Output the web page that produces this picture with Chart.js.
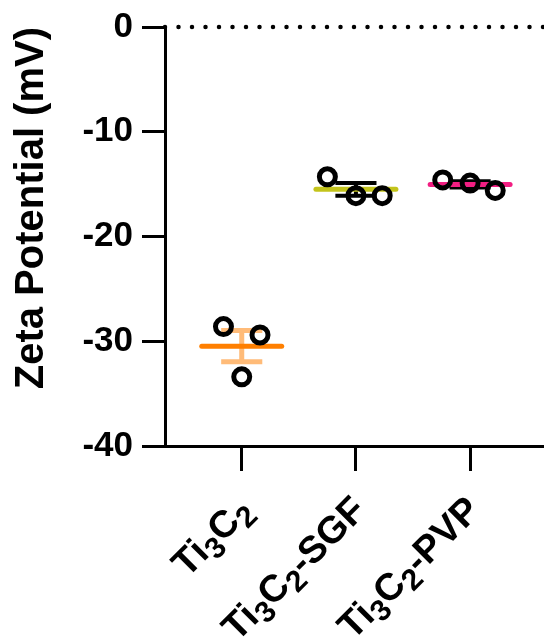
<!DOCTYPE html>
<html>
<head>
<meta charset="utf-8">
<script src="https://cdn.jsdelivr.net/npm/chart.js@4"></script>
<style>
  html, body { margin: 0; padding: 0; background: #fff; }
  #wrap { width: 544px; height: 641px; }
</style>
</head>
<body>
<div id="wrap"><canvas id="zetaChart"></canvas></div>
<script>
// ===== DATA =====
const categories = ["Ti₃C₂", "Ti₃C₂-SGF", "Ti₃C₂-PVP"];
const ti3c2Values = [-28.6, -29.4, -33.4];
const sgfValues = [-14.3, -16.1, -16.1];
const pvpValues = [-14.6, -14.9, -15.6];
// horizontal scatter of the replicate points inside each column
const ti3c2Jitter = [-0.16, 0.16, 0.0];
const sgfJitter = [-0.25, 0.0, 0.23];
const pvpJitter = [-0.24, 0.0, 0.22];
const yTicks = [0, -10, -20, -30, -40];

const groups = [ti3c2Values, sgfValues, pvpValues];
const jitters = [ti3c2Jitter, sgfJitter, pvpJitter];
const meanColors = ["#ff7f00", "#c3c41b", "#f21e82"];
const errColors = ["#ffbb78", "#000000", "#000000"];

const FONT = "'Liberation Sans', Arial, sans-serif";

function mean(arr) {
    return arr.reduce((a, b) => a + b, 0) / arr.length;
}

function sem(arr) {
    const m = mean(arr);
    const v = arr.reduce((a, b) => a + (b - m) * (b - m), 0) / (arr.length - 1);
    return Math.sqrt(v) / Math.sqrt(arr.length);
}

const MEAN_HALF = 0.35;
const CAP_HALF = 0.18;

const datasets = [];

// error bars (drawn first, underneath)
groups.forEach((vals, i) => {
    const m = mean(vals), s = sem(vals);
    const hi = m + s, lo = m - s;
    datasets.push({
        type: "line",
        data: [
            { x: i - CAP_HALF, y: hi }, { x: i + CAP_HALF, y: hi }, { x: i, y: null },
            { x: i, y: hi }, { x: i, y: lo }, { x: i, y: null },
            { x: i - CAP_HALF, y: lo }, { x: i + CAP_HALF, y: lo }
        ],
        borderColor: errColors[i],
        borderWidth: i === 0 ? 5 : 4,
        pointRadius: 0,
        spanGaps: false,
        clip: false,
        order: 3
    });
});

// mean lines
groups.forEach((vals, i) => {
    const m = mean(vals);
    datasets.push({
        type: "line",
        data: [{ x: i - MEAN_HALF, y: m }, { x: i + MEAN_HALF, y: m }],
        borderColor: meanColors[i],
        borderWidth: 5,
        borderCapStyle: "round",
        pointRadius: 0,
        clip: false,
        order: 2
    });
});

// replicate points
groups.forEach((vals, i) => {
    datasets.push({
        type: "scatter",
        data: vals.map((v, k) => ({ x: i + jitters[i][k], y: v })),
        pointRadius: 8,
        pointBorderWidth: 5,
        pointBorderColor: "#000",
        pointBackgroundColor: "rgba(0,0,0,0)",
        clip: false,
        order: 1
    });
});

// dotted zero line
const X_MIN = -0.672, X_MAX = 2.647;
datasets.push({
    type: "line",
    data: [{ x: X_MIN, y: 0 }, { x: X_MAX, y: 0 }],
    borderColor: "#000",
    borderWidth: 4.5,
    borderDash: [0, 13.5],
    borderCapStyle: "round",
    pointRadius: 0,
    clip: false,
    order: 4
});

// ===== X LABELS WITH SUBSCRIPTS =====
const subDigits = { "₀": "0", "₁": "1", "₂": "2", "₃": "3", "₄": "4", "₅": "5", "₆": "6", "₇": "7", "₈": "8", "₉": "9" };

function splitRuns(label) {
    const runs = [];
    for (const ch of label) {
        const sub = ch in subDigits;
        const t = sub ? subDigits[ch] : ch;
        const last = runs[runs.length - 1];
        if (last && last.sub === sub) last.text += t;
        else runs.push({ text: t, sub: sub });
    }
    return runs;
}

const xLabelPlugin = {
    id: "xLabels",
    afterDraw(chart) {
        const xs = chart.scales.x;
        const ctx = chart.ctx;
        categories.forEach((label, i) => {
            const runs = splitRuns(label);
            ctx.save();
            ctx.translate(xs.getPixelForValue(i) + 12, xs.top + 66);
            ctx.rotate(-Math.PI / 4);
            ctx.fillStyle = "#000";
            ctx.textBaseline = "alphabetic";
            let total = 0;
            runs.forEach(r => {
                ctx.font = (r.sub ? "bold 30px " : "bold 38px ") + FONT;
                r.w = ctx.measureText(r.text).width;
                total += r.w;
            });
            let x = -total;
            runs.forEach(r => {
                ctx.font = (r.sub ? "bold 30px " : "bold 38px ") + FONT;
                ctx.fillText(r.text, x, r.sub ? 8 : 0);
                x += r.w;
            });
            ctx.restore();
        });
    }
};

new Chart(document.getElementById("zetaChart"), {
    type: "scatter",
    data: { datasets: datasets },
    plugins: [xLabelPlugin],
    options: {
        responsive: true,
        maintainAspectRatio: false,
        animation: false,
        layout: { autoPadding: false, padding: { top: 27, left: 0, right: 0, bottom: 0 } },
        plugins: { legend: { display: false }, tooltip: { enabled: false } },
        scales: {
            x: {
                type: "linear",
                min: X_MIN,
                max: X_MAX,
                afterBuildTicks: scale => {
                    scale.ticks = categories.map((_, i) => ({ value: i }));
                },
                afterFit: scale => {
                    scale.height = 195;
                    scale.paddingLeft = 0;
                    scale.paddingRight = 0;
                },
                ticks: { display: false },
                grid: {
                    drawOnChartArea: false,
                    tickLength: 25,
                    lineWidth: 3,
                    color: "#000"
                },
                border: { color: "#000", width: 3 }
            },
            y: {
                min: -40,
                max: 0,
                afterBuildTicks: scale => {
                    scale.ticks = yTicks.map(v => ({ value: v }));
                },
                afterFit: scale => {
                    scale.width = 165;
                    scale.paddingTop = 0;
                    scale.paddingBottom = 0;
                },
                ticks: {
                    color: "#000",
                    padding: 9,
                    font: { family: FONT, size: 35, weight: "bold" }
                },
                grid: {
                    drawOnChartArea: false,
                    tickLength: 23,
                    lineWidth: 3,
                    color: "#000"
                },
                border: { color: "#000", width: 3 },
                title: {
                    display: true,
                    text: "Zeta Potential (mV)",
                    align: "end",
                    color: "#000",
                    padding: { top: 8, bottom: 0 },
                    font: { family: FONT, size: 40, weight: "bold" }
                }
            }
        }
    }
});
</script>
</body>
</html>
